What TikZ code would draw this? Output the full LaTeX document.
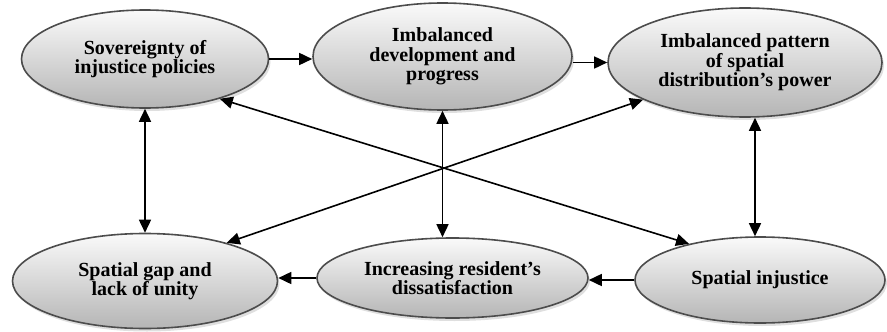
\documentclass[tikz,border=0pt]{standalone}
\usepackage{fontspec}
\setmainfont{Liberation Serif}
\usetikzlibrary{shapes.geometric,arrows.meta,shadows}

\begin{document}
\begin{tikzpicture}
	[x=1pt, y=-1pt,
	 factor/.style={ellipse, draw=gray!60!black, line width=1.6pt, top color=gray!4, bottom color=gray!58,
	 	drop shadow={opacity=0.25, shadow xshift=2pt, shadow yshift=-3pt},
	 	inner sep=0pt, align=center, font=\bfseries\fontsize{20}{19.5}\selectfont},
	 link/.style={line width=1.6pt, -{Triangle[length=13pt,width=12pt]}},
	 twoway/.style={link, {Triangle[length=13pt,width=12pt]}-{Triangle[length=13pt,width=12pt]}}]
	\useasboundingbox (0,0) rectangle (887,332);
	% top row
	\node[factor, minimum width=247pt, minimum height=98pt] (sov) at (145,59) {Sovereignty of\\injustice policies};
	\node[factor, minimum width=259pt, minimum height=107pt] (dev) at (442.5,56.5) {Imbalanced\\development and\\progress};
	\node[factor, minimum width=274pt, minimum height=109pt] (pat) at (745,62.5) {Imbalanced pattern\\of spatial\\distribution's power};
	% bottom row
	\node[factor, minimum width=265pt, minimum height=95pt] (gap) at (145,281) {Spatial gap and\\lack of unity};
	\node[factor, minimum width=271pt, minimum height=80pt] (inc) at (452.5,278) {Increasing resident's\\dissatisfaction};
	\node[factor, minimum width=250pt, minimum height=86pt] (inj) at (760,280) {Spatial injustice};
	% one-way links
	\draw[link] (sov.east) -- (sov.east -| dev.west);
	\draw[link] (pat.west -| dev.east) -- (pat.west);
	\draw[link] (inj.west) -- (inj.west -| inc.east);
	\draw[link] (inc.west) -- (inc.west -| gap.east);
	% two-way links
	\draw[twoway] (sov.south) -- (gap.north);
	\draw[twoway] (dev.south) -- (dev.south |- inc.north);
	\draw[twoway] ([xshift=10pt]pat.south) -- ([xshift=10pt]pat.south |- inj.north);
	\draw[twoway] (sov.-28) -- (inj.153);
	\draw[twoway] (gap.25) -- (pat.-160);
\end{tikzpicture}
\end{document}
